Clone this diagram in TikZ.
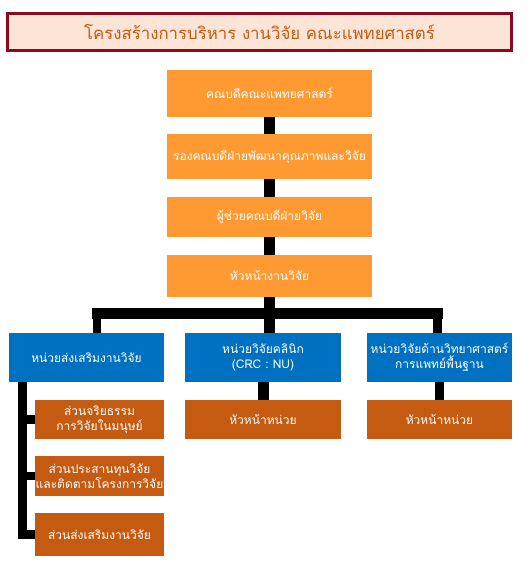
\documentclass[tikz,border=0pt]{standalone}
\usepackage{fontspec}
\setmainfont[Script=Thai]{Loma}
\usepackage{tikz}
\usetikzlibrary{positioning,calc}
\definecolor{cLine}{HTML}{8B0A1E}
\definecolor{cPeach}{HTML}{FCE4D6}
\definecolor{cRust}{HTML}{C55A11}
\definecolor{cOrange}{HTML}{FF9A33}
\definecolor{cBlue}{HTML}{0070C0}
\tikzset{
  box/.style   ={inner sep=0pt,align=center,text=white,
                 font=\fontsize{12}{15}\selectfont},
  obox/.style  ={box,fill=cOrange,minimum width=205pt},
  ubox/.style  ={box,fill=cBlue,minimum height=49pt},
  sbox/.style  ={box,fill=cRust},
  headline/.style={draw=cLine,line width=3pt,fill=cPeach,text=cRust,
                 minimum width=504pt,minimum height=37pt,
                 font=\fontsize{16.8}{20}\selectfont},
  trunk/.style ={line width=11pt,black},
  branch/.style={line width=8.5pt,black,line join=miter},
}
\begin{document}
\begin{tikzpicture}[x=1pt,y=-1pt]
\useasboundingbox (0,0) rectangle (530,573);
% title
\node[headline] (title) at (259.5,32) {โครงสร้างการบริหาร งานวิจัย คณะแพทยศาสตร์};
% faculty chain
\node[obox,minimum height=47pt] (dean) at (269.5,93.5) {คณบดีคณะแพทยศาสตร์};
\node[obox,minimum height=45pt] (vice) at (269.5,156.5) {รองคณบดีฝ่ายพัฒนาคุณภาพและวิจัย};
\node[obox,minimum height=40pt] (asst) at (269.5,217) {ผู้ช่วยคณบดีฝ่ายวิจัย};
\node[obox,minimum height=42pt] (head) at (269.5,276) {หัวหน้างานวิจัย};
% units
\node[ubox,minimum width=155pt] (u1) at (86.5,357.5) {หน่วยส่งเสริมงานวิจัย};
\node[ubox,minimum width=156pt] (u2) at (263,357.5) {หน่วยวิจัยคลินิก\\(CRC : NU)};
\node[ubox,minimum width=145pt] (u3) at (439.5,357.5) {หน่วยวิจัยด้านวิทยาศาสตร์\\การแพทย์พื้นฐาน};
% sections
\node[sbox,minimum width=129pt,minimum height=39pt] (s1) at (99.5,419.5) {ส่วนจริยธรรม\\การวิจัยในมนุษย์};
\node[sbox,minimum width=129pt,minimum height=40pt] (s2) at (99.5,476) {ส่วนประสานทุนวิจัย\\และติดตามโครงการวิจัย};
\node[sbox,minimum width=129pt,minimum height=43pt] (s3) at (99.5,534.5) {ส่วนส่งเสริมงานวิจัย};
\node[sbox,minimum width=156pt,minimum height=39pt] (c2) at (263,419.5) {หัวหน้าหน่วย};
\node[sbox,minimum width=145pt,minimum height=39pt] (c3) at (439.5,419.5) {หัวหน้าหน่วย};
% connectors
\draw[trunk] (dean) -- (vice);
\draw[trunk] (vice) -- (asst);
\draw[trunk] (asst) -- (head);
\coordinate (barL) at (97,313);
\coordinate (barR) at (437.5,313);
\coordinate (spine) at (22.5,382);
\draw[trunk] (head) -- (head |- u2.north);
\draw[trunk,line cap=rect] (barL) -- (barR);
\draw[branch] (barL) -- (barL |- u1.north);
\draw[branch] (barR) -- (barR |- u3.north);
\draw[trunk] (u2) -- (c2);
\draw[branch] (u3) -- (c3);
\draw[branch] (spine) |- (s3.west);
\draw[branch] (spine |- s1.west) -- (s1.west);
\draw[branch] (spine |- s2.west) -- (s2.west);
\end{tikzpicture}
\end{document}
